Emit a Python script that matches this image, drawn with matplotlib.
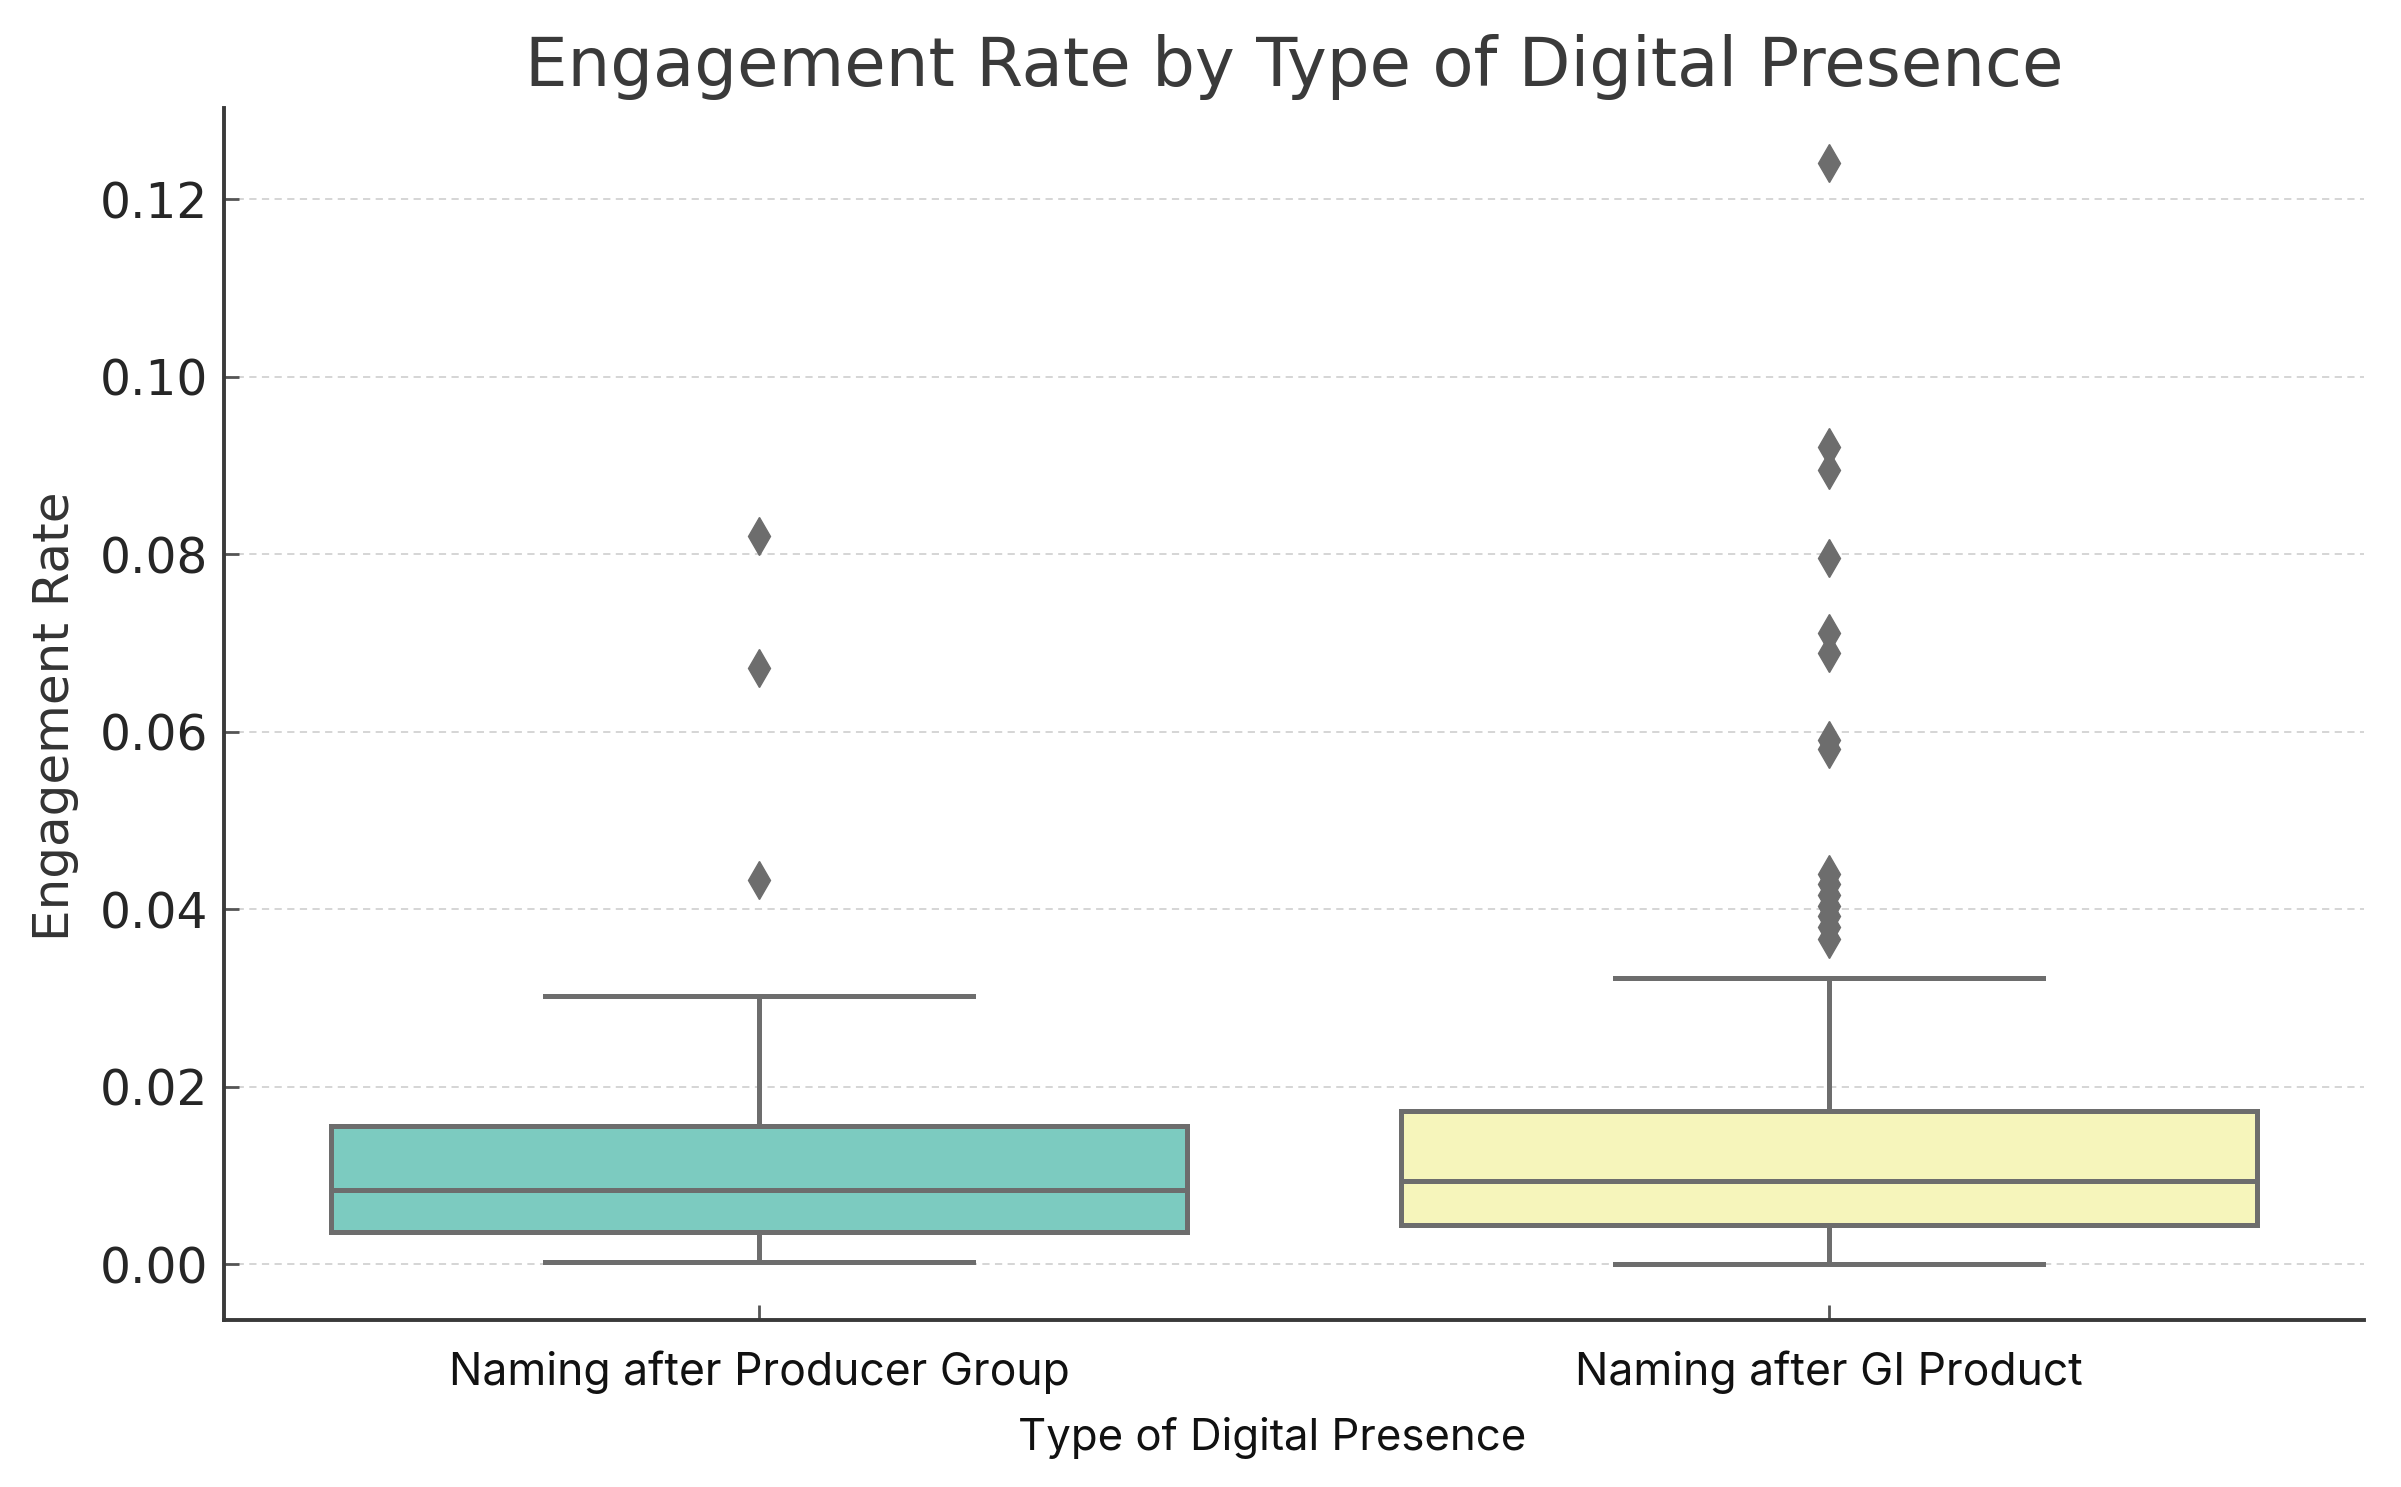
import matplotlib
matplotlib.use("Agg")
import matplotlib.pyplot as plt

# ---- data ----
categories = ["Naming after Producer Group", "Naming after GI Product"]
whisker_low = [0.0002, 0.0000]
q1 = [0.0036, 0.0044]
median = [0.0083, 0.0094]
q3 = [0.0156, 0.0173]
whisker_high = [0.0302, 0.0323]
outliers_producer = [0.0821, 0.0672, 0.0433]
outliers_gi = [0.1241, 0.0921, 0.0895, 0.0796, 0.0711, 0.0689, 0.0591, 0.0580,
               0.0440, 0.0428, 0.0416, 0.0404, 0.0392, 0.0380, 0.0366]
box_colors = ["#7ccbc0", "#f6f5bb"]
yticks = [0.00, 0.02, 0.04, 0.06, 0.08, 0.10, 0.12]

title = "Engagement Rate by Type of Digital Presence"
xlabel = "Type of Digital Presence"
ylabel = "Engagement Rate"

line_color = "#6d6d6d"

fig = plt.figure(figsize=(24.01, 14.87), dpi=100)
ax = fig.add_axes([0.0935, 0.1123, 0.8912, 0.8151])

fliers = [outliers_producer, outliers_gi]
stats = []
for i, cat in enumerate(categories):
    stats.append(dict(label=cat, whislo=whisker_low[i], q1=q1[i], med=median[i],
                      q3=q3[i], whishi=whisker_high[i], fliers=fliers[i]))

lw = 3.6
bp = ax.bxp(stats, positions=[0, 1], widths=0.8, patch_artist=True,
            showfliers=True, manage_ticks=False,
            boxprops=dict(edgecolor=line_color, linewidth=lw),
            medianprops=dict(color=line_color, linewidth=lw),
            whiskerprops=dict(color=line_color, linewidth=lw),
            capprops=dict(color=line_color, linewidth=lw),
            flierprops=dict(marker="d", markersize=19, markerfacecolor=line_color,
                            markeredgecolor=line_color, linestyle="none"))
for patch, c in zip(bp["boxes"], box_colors):
    patch.set_facecolor(c)

ax.set_xlim(-0.5, 1.5)
ax.set_ylim(-0.0063, 0.1303)
ax.set_yticks(yticks)
ax.set_yticklabels([f"{v:.2f}" for v in yticks])
ax.set_xticks([0, 1])
ax.set_xticklabels(categories)

ax.yaxis.grid(True, linestyle=(0, (4, 3)), color="#d2d2d2", linewidth=1.3)
ax.set_axisbelow(True)

for s in ["top", "right"]:
    ax.spines[s].set_visible(False)
for s in ["left", "bottom"]:
    ax.spines[s].set_linewidth(2.8)
    ax.spines[s].set_color("#3a3a3a")

ax.tick_params(axis="y", direction="in", length=11, width=2, color="#555555",
               labelsize=35, pad=12, labelcolor="#262626")
ax.tick_params(axis="x", direction="in", length=11, width=2, color="#555555",
               labelsize=32, pad=22, labelcolor="#111111")
for lab in ax.get_xticklabels():
    lab.set_fontfamily("Inter")

ax.set_ylabel(ylabel, fontsize=36, color="#333333")
ax.yaxis.set_label_coords(-0.0678, 0.498)

fig.text(0.530, 0.025, xlabel, ha="center", va="baseline", fontsize=31.5,
         family="Inter", color="#111111")
fig.text(0.539, 0.942, title, ha="center", va="baseline", fontsize=48.5,
         color="#3a3a3a")

fig.savefig("out.png", dpi=100, facecolor="white")
